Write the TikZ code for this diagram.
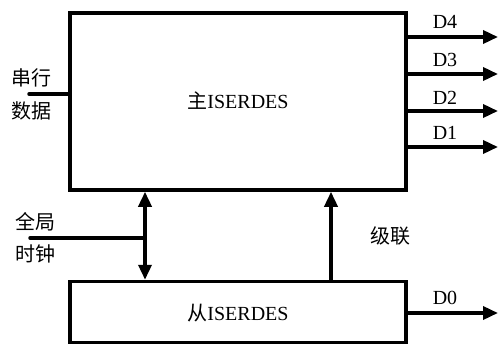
\documentclass[tikz,border=0pt]{standalone}
\usepackage{fontspec}
\setmainfont{Liberation Serif}
\newfontfamily\cjk{Noto Sans CJK SC}
\usetikzlibrary{arrows.meta}
\begin{document}
\begin{tikzpicture}[x=1pt,y=-1pt,
  blk/.style={draw,line width=3.5pt,inner sep=0pt},
  wire/.style={line width=3.5pt},
  arr/.style={line width=3.5pt,-{Triangle[length=15pt,width=13pt]}},
  darr/.style={line width=3.5pt,{Triangle[length=15pt,width=13pt]}-{Triangle[length=15pt,width=13pt]}},
  lbl/.style={font=\fontsize{20}{22}\selectfont,inner sep=0pt},
  cn/.style={font=\cjk\fontsize{20}{22}\selectfont,inner sep=0pt}]
\useasboundingbox (0,0) rectangle (500,345);
\node[blk,minimum width=336pt,minimum height=177pt] (main) at (238,101.5) {};
\node[blk,minimum width=336pt,minimum height=61pt] (slave) at (238,312) {};
\node[lbl] (mt) at (238,101) {{\cjk 主}ISERDES};
\node[lbl] (st) at (238,313) {{\cjk 从}ISERDES};
% outputs
\foreach \n/\y/\ly in {4/37/22,3/74/60,2/111/98,1/147/133}{
  \coordinate (o\n) at (main.east |- 0,\y);
  \coordinate (e\n) at (498,\y);
  \draw[arr] (o\n) -- (e\n);
  \node[lbl] (d\n) at (445,\ly) {D\n};
}
\coordinate (o0) at (slave.east |- 0,313);
\coordinate (e0) at (498,313);
\draw[arr] (o0) -- (e0);
\node[lbl] (d0) at (445,298) {D0};
% serial data
\coordinate (sd) at (29,94);
\draw[wire,line cap=round] (sd) -- (sd -| main.west);
\node[cn] (sd1) at (32,78) {串行};
\node[cn] (sd2) at (32,111) {数据};
% clock
\coordinate (ck) at (145,238);
\coordinate (ckl) at (30,238);
\draw[darr] (main.south -| ck) -- (slave.north -| ck);
\draw[wire,line cap=round] (ckl) -- (ck);
\node[cn] (ck1) at (35,222) {全局};
\node[cn] (ck2) at (35,254) {时钟};
% cascade
\coordinate (cc) at (331,250);
\draw[arr] (slave.north -| cc) -- (main.south -| cc);
\node[cn] (cl) at (390,236) {级联};
\end{tikzpicture}
\end{document}
